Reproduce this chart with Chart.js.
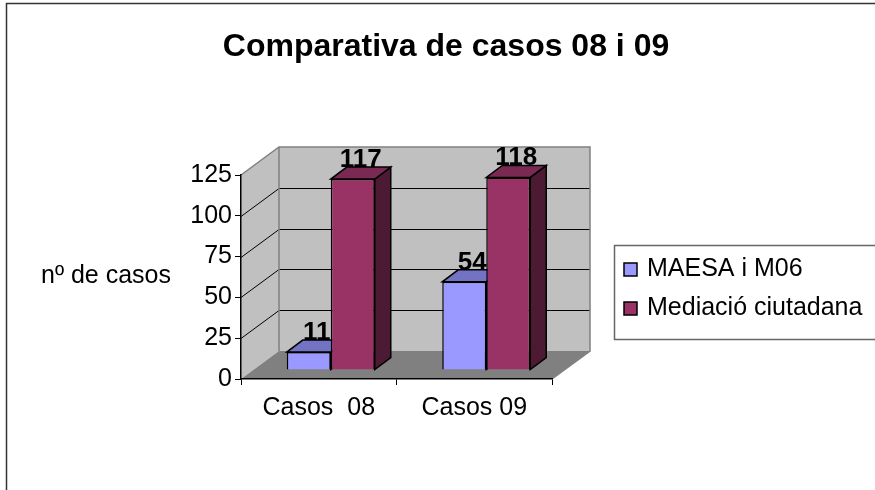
<!DOCTYPE html>
<html>
<head>
<meta charset="utf-8">
<script src="https://cdn.jsdelivr.net/npm/chart.js@4.4.1/dist/chart.umd.min.js"></script>
<style>
  html, body { margin: 0; padding: 0; background: #fff; }
  #wrap { width: 875px; height: 490px; }
</style>
</head>
<body>
<div id="wrap"><canvas id="myChart" width="875" height="490"></canvas></div>
<script>
const categories = ['Casos  08', 'Casos 09'];
const seriesNames = ['MAESA i M06', 'Mediació ciutadana'];
const maesaValues = [11, 54];
const mediacioValues = [117, 118];
const yTicks = [0, 25, 50, 75, 100, 125];

const FONT = "'Liberation Sans', Arial, sans-serif";
const frontColors = ['#9999FF', '#993366'];
const topColors = ['#7373C4', '#7A2952'];
const sideColors = ['#5C5CA8', '#4D1A33'];

// 3d look: whole floor depth, where the bars stand and how deep they are
const depth = { dx: 38, dy: -28 };
const barShift = { dx: 12, dy: -9 };
const barDepth = { dx: 16, dy: -12 };

Chart.defaults.color = '#000';
Chart.defaults.font.family = FONT;

function poly(ctx, pts, fill, stroke, lw) {
  ctx.beginPath();
  ctx.moveTo(pts[0][0], pts[0][1]);
  for (let i = 1; i < pts.length; i++) ctx.lineTo(pts[i][0], pts[i][1]);
  ctx.closePath();
  if (fill) { ctx.fillStyle = fill; ctx.fill(); }
  if (stroke) { ctx.strokeStyle = stroke; ctx.lineWidth = lw || 1; ctx.stroke(); }
}

const walls = {
  id: 'walls',
  beforeDraw(chart) {
    const { ctx, chartArea: a, scales: { y } } = chart;
    ctx.save();
    ctx.fillStyle = '#fff';
    ctx.fillRect(0, 0, chart.width, chart.height);
    // frame
    ctx.strokeStyle = '#333';
    ctx.lineWidth = 1.5;
    ctx.beginPath();
    ctx.moveTo(6.5, chart.height);
    ctx.lineTo(6.5, 3.5);
    ctx.lineTo(chart.width, 3.5);
    ctx.stroke();

    const dx = depth.dx, dy = depth.dy;
    poly(ctx, [[a.left, a.bottom], [a.left, a.top], [a.left + dx, a.top + dy], [a.left + dx, a.bottom + dy]], '#C0C0C0');
    ctx.fillStyle = '#C0C0C0';
    ctx.fillRect(a.left + dx, a.top + dy, a.right - a.left, a.bottom - a.top);
    poly(ctx, [[a.left, a.bottom], [a.right, a.bottom], [a.right + dx, a.bottom + dy], [a.left + dx, a.bottom + dy]], '#808080');

    // gridlines on side and back wall
    ctx.strokeStyle = '#000';
    ctx.lineWidth = 1;
    y.ticks.forEach(t => {
      if (t.value <= y.min || t.value >= y.max) return;
      const py = Math.round(y.getPixelForValue(t.value)) + 0.5;
      ctx.beginPath();
      ctx.moveTo(a.left, py);
      ctx.lineTo(a.left + dx, py + dy);
      ctx.lineTo(a.right + dx, py + dy);
      ctx.stroke();
    });

    // wall edges
    ctx.strokeStyle = '#808080';
    ctx.lineWidth = 1.5;
    ctx.beginPath();
    ctx.moveTo(a.left, a.top);
    ctx.lineTo(a.left + dx, a.top + dy);
    ctx.lineTo(a.right + dx, a.top + dy);
    ctx.lineTo(a.right + dx, a.bottom + dy);
    ctx.lineTo(a.right, a.bottom);
    ctx.moveTo(a.left + dx, a.top + dy);
    ctx.lineTo(a.left + dx, a.bottom + dy);
    ctx.stroke();
    ctx.restore();
  },
  beforeDatasetsDraw(chart) {
    const ctx = chart.ctx;
    ctx.save();
    ctx.translate(barShift.dx, barShift.dy);
    const metas = chart.data.datasets.map((d, i) => chart.getDatasetMeta(i));
    for (let c = 0; c < categories.length; c++) {
      metas.forEach((meta, d) => {
        const el = meta.data[c];
        const p = el.getProps(['x', 'y', 'base', 'width'], true);
        const l = p.x - p.width / 2, r = p.x + p.width / 2;
        const t = p.y, b = p.base;
        poly(ctx, [[r, t], [r + barDepth.dx, t + barDepth.dy], [r + barDepth.dx, b + barDepth.dy], [r, b]], sideColors[d], '#000', 1.5);
        poly(ctx, [[l, t], [r, t], [r + barDepth.dx, t + barDepth.dy], [l + barDepth.dx, t + barDepth.dy]], topColors[d], '#000', 1.5);
      });
    }
  },
  afterDatasetsDraw(chart) {
    const ctx = chart.ctx;
    ctx.restore();
    ctx.save();
    ctx.font = 'bold 26px ' + FONT;
    ctx.fillStyle = '#000';
    ctx.textAlign = 'center';
    ctx.textBaseline = 'alphabetic';
    chart.data.datasets.forEach((ds, d) => {
      chart.getDatasetMeta(d).data.forEach((el, i) => {
        const p = el.getProps(['x', 'y'], true);
        ctx.fillText(String(ds.data[i]), p.x + barShift.dx + barDepth.dx / 2, p.y + barShift.dy + barDepth.dy);
      });
    });
    ctx.restore();
  },
  afterDraw(chart) {
    const { ctx, chartArea: a } = chart;
    ctx.save();
    // y axis title, horizontal
    ctx.font = '25px ' + FONT;
    ctx.fillStyle = '#000';
    ctx.textAlign = 'center';
    ctx.textBaseline = 'middle';
    ctx.fillText('nº de casos', 106, 276);

    // legend
    const lx = a.right + 62, ly = 245;
    ctx.strokeStyle = '#666';
    ctx.lineWidth = 1.5;
    ctx.strokeRect(lx + 0.5, ly + 0.5, 300, 94);
    ctx.textAlign = 'left';
    chart.data.datasets.forEach((ds, d) => {
      const cy = ly + 23 + d * 39;
      ctx.fillStyle = ds.backgroundColor;
      ctx.fillRect(lx + 10, cy - 5, 13, 13);
      ctx.strokeStyle = '#000';
      ctx.lineWidth = 1.5;
      ctx.strokeRect(lx + 10, cy - 5, 13, 13);
      ctx.fillStyle = '#000';
      ctx.fillText(ds.label, lx + 33, cy + 1);
    });
    ctx.restore();
  }
};

new Chart(document.getElementById('myChart'), {
  type: 'bar',
  plugins: [walls],
  data: {
    labels: categories,
    datasets: [
      { label: seriesNames[0], data: maesaValues, backgroundColor: frontColors[0], borderColor: '#000', borderWidth: 1.5 },
      { label: seriesNames[1], data: mediacioValues, backgroundColor: frontColors[1], borderColor: '#000', borderWidth: 1.5 }
    ]
  },
  options: {
    responsive: false,
    animation: false,
    events: [],
    layout: { padding: { left: 17, right: 0, top: 0, bottom: 0 } },
    categoryPercentage: 0.566,
    barPercentage: 1.0,
    plugins: {
      legend: { display: false },
      tooltip: { enabled: false },
      title: {
        display: true,
        text: 'Comparativa de casos 08 i 09',
        font: { size: 32, weight: 'bold', family: FONT },
        color: '#000',
        padding: { top: 28, bottom: 108.6 }
      }
    },
    scales: {
      x: {
        grid: { offset: true, drawOnChartArea: false, drawTicks: true, tickLength: 6, color: '#000' },
        border: { color: '#000', width: 1.5 },
        ticks: { font: { size: 25 }, padding: 8, color: '#000' },
        afterFit(s) { s.height = 111; }
      },
      y: {
        min: yTicks[0],
        max: yTicks[yTicks.length - 1],
        ticks: { stepSize: yTicks[1] - yTicks[0], font: { size: 25 }, padding: 3, color: '#000' },
        grid: { drawOnChartArea: false, drawTicks: true, tickLength: 6, color: '#000' },
        border: { color: '#000', width: 1.5 },
        afterFit(s) { s.width = 224; }
      },
      side: {
        position: 'right',
        display: true,
        ticks: { display: false },
        grid: { display: false },
        border: { display: false },
        afterFit(s) { s.width = 323; }
      }
    }
  }
});
</script>
</body>
</html>
